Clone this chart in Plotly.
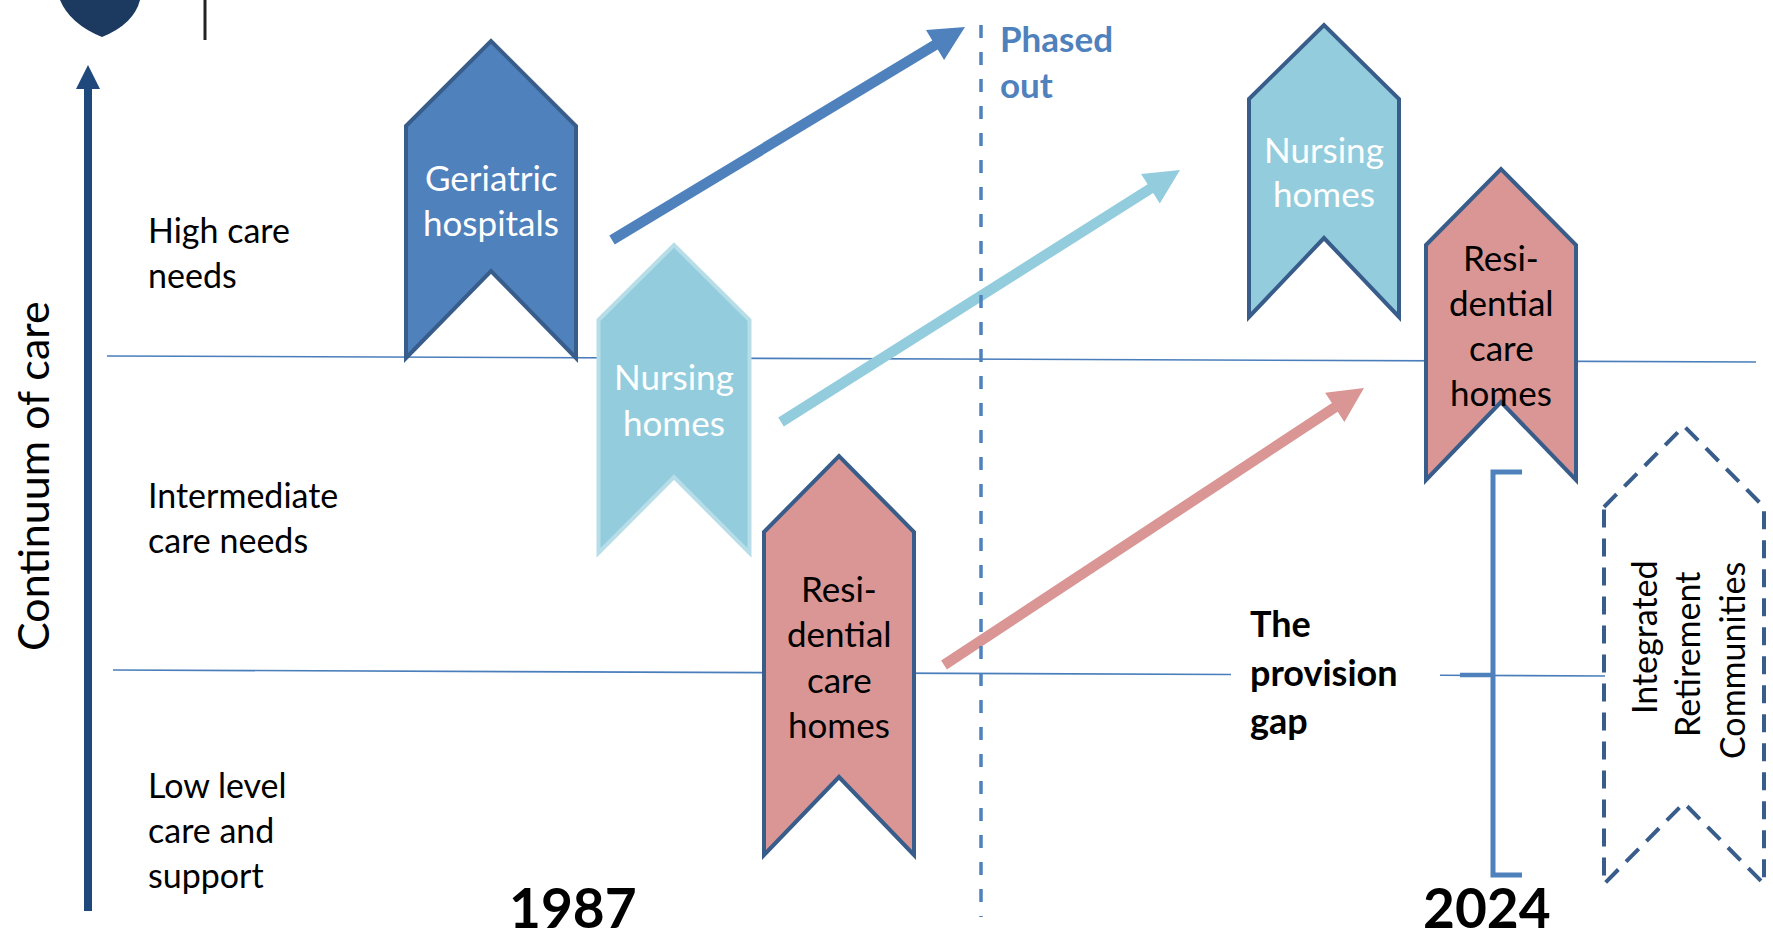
import math
import plotly.graph_objects as go

# ---------------- content ----------------
care_levels = [["High care", "needs"],
               ["Intermediate", "care needs"],
               ["Low level", "care and", "support"]]
years = ["1987", "2024"]
services_1987 = [["Geriatric", "hospitals"],
                 ["Nursing", "homes"],
                 ["Resi-", "dential", "care", "homes"]]
services_2024 = [["Nursing", "homes"],
                 ["Resi-", "dential", "care", "homes"]]
irc_label = ["Integrated", "Retirement", "Communities"]
phased_label = ["Phased", "out"]
gap_label = ["The", "provision", "gap"]
axis_title = "Continuum of care"

# ---------------- styles / geometry ----------------
W, H = 1773, 939
FONT = "Lato, 'Open Sans', sans-serif"
C_BLUE = "#4f81bd"
C_LBLUE = "#93cddd"
C_PINK = "#d99694"
C_EDGE = "#385d8a"
C_NAVY = "#1f497d"
C_LINE = "#4a7ebb"

# chevron geometry: cx, half width, top, shoulder, bottom, notch
chev_1987 = [(491, 85, 41, 126, 358, 271),
             (674, 75.5, 245, 320, 553, 477),
             (839, 75, 456, 532, 855, 777)]
chev_2024 = [(1324, 75, 25, 99, 317, 238),
             (1501, 75, 169, 245, 480, 402)]
chev_irc = (1684, 80, 426, 507, 884, 803)

fill_1987 = [C_BLUE, C_LBLUE, C_PINK]
edge_1987 = [C_EDGE, "#b7dee8", C_EDGE]
text_1987 = ["white", "white", "black"]
fill_2024 = [C_LBLUE, C_PINK]
text_2024 = ["white", "black"]
lines_y_1987 = [[177, 222], [376, 422], [588, 633, 679, 724]]
lines_y_2024 = [[149, 193], [257, 302, 347, 392]]

arrows = [((612, 240), (965, 27), C_BLUE),
          ((781, 422), (1180, 170), C_LBLUE),
          ((944, 665), (1364, 388), C_PINK)]

level_x = 146
level_lines_y = [[229, 274], [494, 539], [784, 829, 874]]


def chevron(cx, hw, top, sh, bot, notch):
    return (f"M {cx-hw},{sh} L {cx},{top} L {cx+hw},{sh} L {cx+hw},{bot} "
            f"L {cx},{notch} L {cx-hw},{bot} Z")


def arrow_path(p0, p1, w=10.5, L=35, HW=35):
    (x0, y0), (x1, y1) = p0, p1
    dx, dy = x1 - x0, y1 - y0
    n = math.hypot(dx, dy)
    ux, uy = dx / n, dy / n
    px, py = -uy, ux
    bx, by = x1 - ux * L, y1 - uy * L
    pts = [(x0 + px * w / 2, y0 + py * w / 2),
           (bx + px * w / 2, by + py * w / 2),
           (bx + px * HW / 2, by + py * HW / 2),
           (x1, y1),
           (bx - px * HW / 2, by - py * HW / 2),
           (bx - px * w / 2, by - py * w / 2),
           (x0 - px * w / 2, y0 - py * w / 2)]
    return "M " + " L ".join(f"{x:.1f},{y:.1f}" for x, y in pts) + " Z"


shapes = []


def add(**kw):
    kw.setdefault("xref", "x")
    kw.setdefault("yref", "y")
    shapes.append(kw)


# logo fragment + divider
add(type="path", path="M 60,0 Q 70,24 102,37 Q 134,24 140,0 Z",
    fillcolor="#1c3a60", line=dict(width=0))
add(type="line", x0=205, y0=0, x1=205, y1=40, line=dict(color="#222222", width=3))

# vertical up arrow (continuum axis)
add(type="path", path="M 84,911 L 84,89 L 76,89 L 88,65 L 100,89 L 92,89 L 92,911 Z",
    fillcolor=C_NAVY, line=dict(width=0))

# horizontal level separators
add(type="line", x0=107, y0=356, x1=1756, y1=362, line=dict(color=C_LINE, width=1.6))
add(type="line", x0=113, y0=670, x1=1231, y1=674.5, line=dict(color=C_LINE, width=1.6))
add(type="line", x0=1440, y0=675.3, x1=1605, y1=676, line=dict(color=C_LINE, width=1.6))

# provision gap bracket
add(type="path", path="M 1522,472 L 1493,472 L 1493,875 L 1522,875",
    line=dict(color=C_BLUE, width=5))
add(type="line", x0=1460, y0=675, x1=1493, y1=675, line=dict(color=C_BLUE, width=4.5))

# chevrons 1987
for geo, fc, ec in zip(chev_1987, fill_1987, edge_1987):
    add(type="path", path=chevron(*geo), fillcolor=fc, line=dict(color=ec, width=4))
# chevrons 2024
for geo, fc in zip(chev_2024, fill_2024):
    add(type="path", path=chevron(*geo), fillcolor=fc, line=dict(color=C_EDGE, width=4))
# IRC dashed chevron
add(type="path", path=chevron(*chev_irc), fillcolor="rgba(0,0,0,0)",
    line=dict(color=C_EDGE, width=4, dash="18px,11px"))

# arrows
for p0, p1, col in arrows:
    add(type="path", path=arrow_path(p0, p1), fillcolor=col, line=dict(width=0))

# phased-out dashed line
add(type="line", x0=981, y0=25, x1=981, y1=917, line=dict(color=C_BLUE, width=3.5, dash="13px,14px"))

annotations = []


def txt(x, y, s, size=35, color="black", xanchor="center", bold=False, angle=0, weight=None, yanchor="middle"):
    f = dict(family=FONT, size=size, color=color)
    if weight is not None:
        f["weight"] = weight
    annotations.append(dict(x=x, y=y, xref="x", yref="y", text=(f"<b>{s}</b>" if bold else s),
                            showarrow=False, xanchor=xanchor, yanchor=yanchor,
                            font=f, textangle=angle))


# axis title
txt(32, 476, axis_title, size=43, angle=-90)

# care level labels
for lines, ys in zip(care_levels, level_lines_y):
    for s, y in zip(lines, ys):
        txt(level_x, y, s, xanchor="left", size=34)

# service labels
for geo, lines, ys, col in zip(chev_1987, services_1987, lines_y_1987, text_1987):
    for s, y in zip(lines, ys):
        txt(geo[0], y, s, color=col)
for geo, lines, ys, col in zip(chev_2024, services_2024, lines_y_2024, text_2024):
    for s, y in zip(lines, ys):
        txt(geo[0], y, s, color=col)

# IRC rotated label
for s, x, y in zip(irc_label, [1643, 1686, 1731], [637, 655, 661]):
    txt(x, y, s, angle=-90, size=34)

# phased out
for s, y in zip(phased_label, [38, 84]):
    txt(998, y, s, color=C_BLUE, bold=True, xanchor="left", size=35)

# provision gap
for s, y in zip(gap_label, [623, 672, 720]):
    txt(1248, y, s, bold=True, xanchor="left", size=36)

# years
for s, x in zip(years, [573, 1487]):
    txt(x, 907, s, bold=True, size=55)

fig = go.Figure()
fig.update_layout(
    width=W, height=H, margin=dict(l=0, r=0, t=0, b=0),
    paper_bgcolor="white", plot_bgcolor="white", showlegend=False,
    xaxis=dict(range=[0, W], visible=False, fixedrange=True),
    yaxis=dict(range=[H, 0], visible=False, fixedrange=True),
    shapes=shapes, annotations=annotations,
)
fig.write_html("out.html", config={"displayModeBar": False},
               post_script="document.body.style.margin='0';document.body.style.overflow='hidden';")
